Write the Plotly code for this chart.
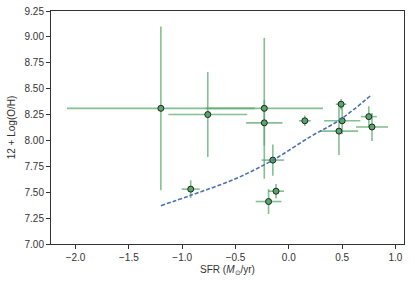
import plotly.graph_objects as go

# Data points
sfr = [-1.20, -0.76, -0.23, -0.23, 0.15, -0.15, -0.12, -0.19, -0.92, 0.49, 0.50, 0.47, 0.75, 0.78]
sfr_err = [0.88, 0.37, 0.55, 0.17, 0.055, 0.106, 0.075, 0.12, 0.085, 0.05, 0.17, 0.18, 0.075, 0.15]
oh = [8.31, 8.25, 8.31, 8.17, 8.19, 7.81, 7.51, 7.41, 7.53, 8.35, 8.19, 8.09, 8.23, 8.13]
oh_err = [0.79, 0.41, 0.68, 0.22, 0.05, 0.15, 0.07, 0.12, 0.085, 0.05, 0.13, 0.23, 0.10, 0.135]

# Relation curve
curve_x = [-1.20, -0.92, -0.50, -0.15, 0.20, 0.48, 0.775]
curve_y = [7.37, 7.47, 7.63, 7.81, 8.035, 8.20, 8.44]

x_ticks = [-2.0, -1.5, -1.0, -0.5, 0.0, 0.5, 1.0]
y_ticks = [7.00, 7.25, 7.50, 7.75, 8.00, 8.25, 8.50, 8.75, 9.00, 9.25]

green = "#55a868"
err_col = "rgba(85,168,104,0.72)"
blue = "#4c72b0"
txt = "#333333"

fig = go.Figure()
fig.add_trace(go.Scatter(
    x=sfr, y=oh, mode="markers",
    marker=dict(size=6, color=green, line=dict(color="#222222", width=1)),
    error_x=dict(type="data", array=sfr_err, visible=True, color=err_col, thickness=1.6, width=0),
    error_y=dict(type="data", array=oh_err, visible=True, color=err_col, thickness=1.6, width=0),
    showlegend=False,
))
fig.add_trace(go.Scatter(
    x=curve_x, y=curve_y, mode="lines",
    line=dict(color=blue, width=1.6, dash="4px,2px", shape="spline"),
    showlegend=False,
))

axis_common = dict(
    showgrid=False, zeroline=False, showline=True, linecolor="#333333", linewidth=1,
    mirror=True, ticks="outside", ticklen=4, tickwidth=1, tickcolor="#333333",
    automargin=False,
    tickfont=dict(family="Liberation Sans, Arial, sans-serif", size=10, color=txt),
)

fig.update_layout(
    width=415, height=286,
    margin=dict(l=51, r=11, t=11, b=42, autoexpand=False),
    paper_bgcolor="white", plot_bgcolor="white",
    font=dict(family="Liberation Sans, Arial, sans-serif", size=10, color=txt),
    xaxis=dict(range=[-2.23, 1.08], tickvals=x_ticks, tickformat=".1f",
               title=dict(text="SFR (<i>M</i><sub>⊙</sub>/yr)", font=dict(size=10, color=txt), standoff=3),
               **axis_common),
    yaxis=dict(range=[7.0, 9.25], tickvals=y_ticks, tickformat=".2f",
               title=dict(text="12 + Log(O/H)", font=dict(size=10, color=txt), standoff=7),
               **axis_common),
)

fig.write_html("out.html", config={"displayModeBar": False},
               post_script="document.body.style.margin='0';document.body.style.overflow='hidden';")
